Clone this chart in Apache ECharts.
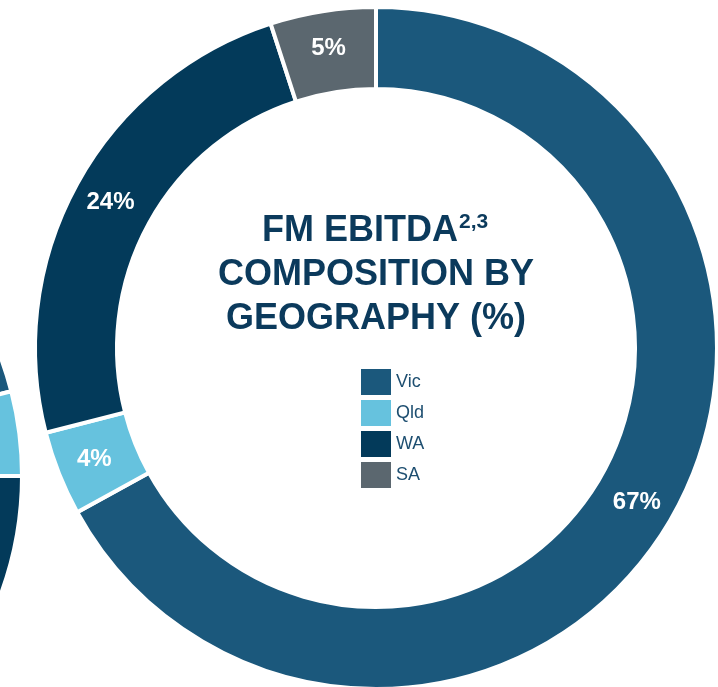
<!DOCTYPE html>
<html>
<head>
<meta charset="utf-8">
<script src="https://cdn.jsdelivr.net/npm/echarts@6/dist/echarts.min.js"></script>
<style>
html,body{margin:0;padding:0;background:#fff;}
#c{width:718px;height:687px;}
</style>
</head>
<body>
<div id="c"></div>
<script>
// Main chart data
const categories = ['Vic', 'Qld', 'WA', 'SA'];
const shares = [67, 4, 24, 5];
const colors = ['#1b587c', '#66c2de', '#033a5a', '#5b676f'];
// Partially visible neighbouring donut (cut off at left edge)
const sideShares = [21, 4, 45, 30];

const chart = echarts.init(document.getElementById('c'));

const mainData = categories.map((n, i) => ({ name: n, value: shares[i], itemStyle: { color: colors[i] } }));
const sideData = categories.map((n, i) => ({ name: n, value: sideShares[i], itemStyle: { color: colors[i] } }));

const titleFont = 'bold 36px "Liberation Sans"';
const titleColor = '#0b3a5c';

chart.setOption({
  animation: false,
  backgroundColor: '#ffffff',
  legend: {
    data: categories,
    orient: 'vertical',
    left: 361,
    top: 369,
    padding: 0,
    itemWidth: 30,
    itemHeight: 26,
    itemGap: 5,
    icon: 'rect',
    selectedMode: false,
    itemStyle: { borderWidth: 0 },
    textStyle: { fontFamily: 'Liberation Sans', fontSize: 18, color: '#1d4e70' }
  },
  graphic: [
    {
      type: 'text', x: 262, y: 213, silent: true,
      style: { text: 'FM EBITDA', fill: titleColor, font: titleFont }
    },
    {
      type: 'text', x: 459, y: 212, silent: true,
      style: { text: '2,3', fill: titleColor, font: 'bold 21px "Liberation Sans"' }
    },
    {
      type: 'text', x: 376, y: 257, silent: true,
      style: { text: 'COMPOSITION BY', fill: titleColor, font: titleFont, align: 'center' }
    },
    {
      type: 'text', x: 376, y: 301, silent: true,
      style: { text: 'GEOGRAPHY (%)', fill: titleColor, font: titleFont, align: 'center' }
    }
  ],
  series: [
    {
      type: 'pie',
      center: [376, 348],
      radius: [259, 341],
      startAngle: 90,
      clockwise: true,
      avoidLabelOverlap: false,
      itemStyle: { borderColor: '#ffffff', borderWidth: 4 },
      label: {
        show: true,
        position: 'inside',
        formatter: '{c}%',
        color: '#ffffff',
        fontFamily: 'Liberation Sans',
        fontWeight: 'bold',
        fontSize: 24
      },
      labelLine: { show: false },
      emphasis: { disabled: true },
      data: mainData
    },
    {
      type: 'pie',
      center: [-319, 476],
      radius: [259, 341],
      startAngle: 90,
      clockwise: true,
      silent: true,
      itemStyle: { borderColor: '#ffffff', borderWidth: 4 },
      label: { show: false },
      labelLine: { show: false },
      emphasis: { disabled: true },
      data: sideData
    }
  ]
});
</script>
</body>
</html>
